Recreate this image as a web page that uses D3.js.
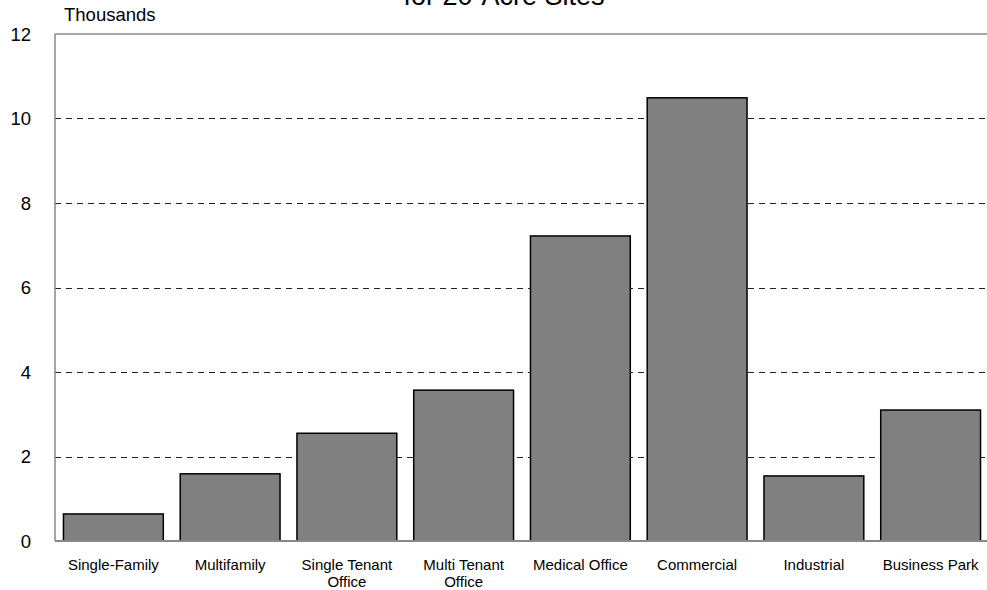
<!DOCTYPE html>
<html>
<head>
<meta charset="utf-8">
<script src="https://cdn.jsdelivr.net/npm/d3@7"></script>
<style>
  body { margin: 0; background: #fff; }
  svg { font-family: "Liberation Sans", Arial, sans-serif; }
</style>
</head>
<body>
<div id="chart"></div>
<script>
var categories = ['Single-Family', 'Multifamily', 'Single Tenant Office', 'Multi Tenant Office',
    'Medical Office', 'Commercial', 'Industrial', 'Business Park'];
var labelLines = [['Single-Family'], ['Multifamily'], ['Single Tenant', 'Office'], ['Multi Tenant', 'Office'],
    ['Medical Office'], ['Commercial'], ['Industrial'], ['Business Park']];
var values = [0.64, 1.59, 2.55, 3.57, 7.22, 10.49, 1.54, 3.10];
var yTicks = [0, 2, 4, 6, 8, 10, 12];

var width = 987, height = 590;
var margin = { top: 34, right: -2, bottom: 49, left: 55 };

var svg = d3.select('#chart')
    .append('svg')
    .attr('width', width)
    .attr('height', height);

var x = d3.scaleBand()
    .domain(categories)
    .range([margin.left, width - margin.right])
    .paddingInner(0.145)
    .paddingOuter(0.0725);

var y = d3.scaleLinear()
    .domain([0, 12])
    .range([height - margin.bottom, margin.top]);

// title, clipped at the top of the picture like in the source
svg.append('text')
    .attr('x', 504)
    .attr('y', 5)
    .attr('text-anchor', 'middle')
    .style('font-size', '27px')
    .text('for 20-Acre Sites');

svg.append('text')
    .attr('x', 64)
    .attr('y', 21)
    .style('font-size', '18.5px')
    .text('Thousands');

// dashed gridlines
svg.append('g')
    .selectAll('line')
    .data(yTicks.filter(function(d) { return d > 0 && d < 12; }))
    .enter()
    .append('line')
    .attr('x1', margin.left)
    .attr('x2', width)
    .attr('y1', function(d) { return Math.round(y(d)) + 0.5; })
    .attr('y2', function(d) { return Math.round(y(d)) + 0.5; })
    .attr('stroke', '#222')
    .attr('stroke-width', 1)
    .attr('stroke-dasharray', '6,5');

// bars
svg.append('g')
    .selectAll('rect')
    .data(values)
    .enter()
    .append('rect')
    .attr('x', function(d, i) { return x(categories[i]); })
    .attr('y', function(d) { return y(d); })
    .attr('width', x.bandwidth())
    .attr('height', function(d) { return y(0) - y(d); })
    .attr('fill', '#808080')
    .attr('stroke', '#000')
    .attr('stroke-width', 1.5);

// frame: left, top, bottom
svg.append('line')
    .attr('x1', margin.left).attr('x2', margin.left)
    .attr('y1', y(12)).attr('y2', y(0))
    .attr('stroke', '#888').attr('stroke-width', 1.5);
svg.append('line')
    .attr('x1', margin.left).attr('x2', width)
    .attr('y1', y(12)).attr('y2', y(12))
    .attr('stroke', '#888').attr('stroke-width', 1.5);
svg.append('line')
    .attr('x1', margin.left).attr('x2', width)
    .attr('y1', y(0)).attr('y2', y(0))
    .attr('stroke', '#888').attr('stroke-width', 2);

// y tick labels
svg.append('g')
    .selectAll('text')
    .data(yTicks)
    .enter()
    .append('text')
    .attr('x', 31)
    .attr('y', function(d) { return y(d); })
    .attr('dy', '0.36em')
    .attr('text-anchor', 'end')
    .style('font-size', '18.5px')
    .text(function(d) { return d; });

// category labels
var labels = svg.append('g')
    .selectAll('text')
    .data(categories)
    .enter()
    .append('text')
    .attr('text-anchor', 'middle')
    .style('font-size', '15px');

labels.each(function(d, i) {
    var t = d3.select(this);
    labelLines[i].forEach(function(line, j) {
        t.append('tspan')
            .attr('x', x(d) + x.bandwidth() / 2)
            .attr('y', 570 + j * 17)
            .text(line);
    });
});
</script>
</body>
</html>
